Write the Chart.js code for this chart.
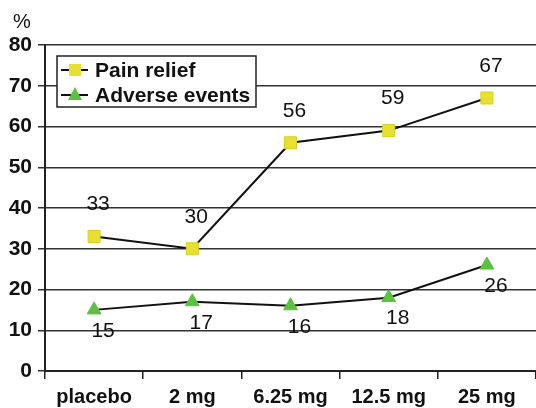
<!DOCTYPE html>
<html>
<head>
<meta charset="utf-8">
<script src="https://cdn.jsdelivr.net/npm/chart.js"></script>
<style>
  html, body { margin: 0; padding: 0; background: #fff; }
  #wrap { width: 536px; height: 408px; }
</style>
</head>
<body>
<div id="wrap"><canvas id="chart" width="536" height="408"></canvas></div>
<script>
var doses = ['placebo', '2 mg', '6.25 mg', '12.5 mg', '25 mg'];
var painRelief = [33, 30, 56, 59, 67];
var adverseEvents = [15, 17, 16, 18, 26];
var yTicks = [0, 10, 20, 30, 40, 50, 60, 70, 80];

var FONT = '"Liberation Sans", Arial, sans-serif';

// value labels next to each point + the "%" unit
var labelPlugin = {
  id: 'valueLabels',
  afterDatasetsDraw: function (chart) {
    var ctx = chart.ctx;
    ctx.save();
    ctx.fillStyle = '#111';
    ctx.font = '21px ' + FONT;
    ctx.textAlign = 'center';
    ctx.textBaseline = 'middle';
    chart.data.datasets.forEach(function (ds, i) {
      var meta = chart.getDatasetMeta(i);
      meta.data.forEach(function (pt, j) {
        var dy = ds.labelBelow ? 21 : -32;
        var dx = ds.labelBelow ? 9 : 4;
        ctx.fillText(String(ds.data[j]), pt.x + dx, pt.y + dy);
      });
    });
    ctx.font = '20px ' + FONT;
    ctx.textAlign = 'left';
    ctx.fillText('%', 13, 22);
    ctx.restore();
  }
};

// legend drawn inside the plot area, top left
var boxLegend = {
  id: 'boxLegend',
  afterDraw: function (chart) {
    var ctx = chart.ctx;
    var x = 57, y = 56, w = 199, h = 51;
    ctx.save();
    ctx.fillStyle = '#fff';
    ctx.fillRect(x, y, w, h);
    ctx.strokeStyle = '#222';
    ctx.lineWidth = 1.5;
    ctx.strokeRect(x, y, w, h);
    chart.data.datasets.forEach(function (ds, i) {
      var cy = y + 14 + i * 25;
      ctx.strokeStyle = '#111';
      ctx.lineWidth = 2;
      ctx.beginPath();
      ctx.moveTo(x + 4, cy);
      ctx.lineTo(x + 31, cy);
      ctx.stroke();
      ctx.fillStyle = ds.backgroundColor;
      var cx = x + 18;
      if (ds.pointStyle === 'rect') {
        ctx.fillRect(cx - 6, cy - 6, 12, 12);
      } else {
        ctx.beginPath();
        ctx.moveTo(cx, cy - 8);
        ctx.lineTo(cx + 7, cy + 5);
        ctx.lineTo(cx - 7, cy + 5);
        ctx.closePath();
        ctx.fill();
      }
      ctx.fillStyle = '#111';
      ctx.font = 'bold 21px ' + FONT;
      ctx.textAlign = 'left';
      ctx.textBaseline = 'middle';
      ctx.fillText(ds.label, x + 38, cy + 1);
    });
    ctx.restore();
  }
};

new Chart(document.getElementById('chart'), {
  type: 'line',
  data: {
    labels: doses,
    datasets: [
      {
        label: 'Pain relief',
        data: painRelief,
        borderColor: '#111',
        borderWidth: 2,
        backgroundColor: '#e8e030',
        pointBackgroundColor: '#e8e030',
        pointBorderColor: '#d8d020',
        pointBorderWidth: 1,
        pointStyle: 'rect',
        pointRadius: 8.5,
        labelBelow: false
      },
      {
        label: 'Adverse events',
        data: adverseEvents,
        borderColor: '#111',
        borderWidth: 2,
        backgroundColor: '#5cc040',
        pointBackgroundColor: '#5cc040',
        pointBorderColor: '#5cc040',
        pointBorderWidth: 1,
        pointStyle: 'triangle',
        pointRadius: 8,
        labelBelow: true
      }
    ]
  },
  options: {
    responsive: false,
    animation: false,
    layout: { autoPadding: false, padding: { top: 45, right: 0, left: 0, bottom: 0 } },
    plugins: {
      legend: { display: false },
      tooltip: { enabled: false }
    },
    scales: {
      x: {
        offset: true,
        afterFit: function (axis) {
          axis.height = 37;
          axis.paddingLeft = 0;
          axis.paddingRight = 0;
        },
        grid: {
          offset: true,
          drawOnChartArea: false,
          drawTicks: true,
          tickLength: 8,
          color: '#222',
          lineWidth: 1.5
        },
        border: { color: '#222', width: 2 },
        ticks: {
          color: '#111',
          font: { family: FONT, size: 20, weight: 'bold' },
          padding: 6,
          maxRotation: 0,
          autoSkip: false
        }
      },
      y: {
        min: 0,
        max: 80,
        afterBuildTicks: function (axis) {
          axis.ticks = yTicks.map(function (v) { return { value: v }; });
        },
        afterFit: function (axis) {
          axis.width = 45;
          axis.paddingTop = 0;
          axis.paddingBottom = 0;
        },
        grid: {
          color: '#333',
          lineWidth: 1.5,
          tickLength: 7
        },
        border: { color: '#222', width: 2 },
        ticks: {
          color: '#111',
          font: { family: FONT, size: 21, weight: 'bold' },
          padding: 6
        }
      }
    }
  },
  plugins: [labelPlugin, boxLegend]
});
</script>
</body>
</html>
